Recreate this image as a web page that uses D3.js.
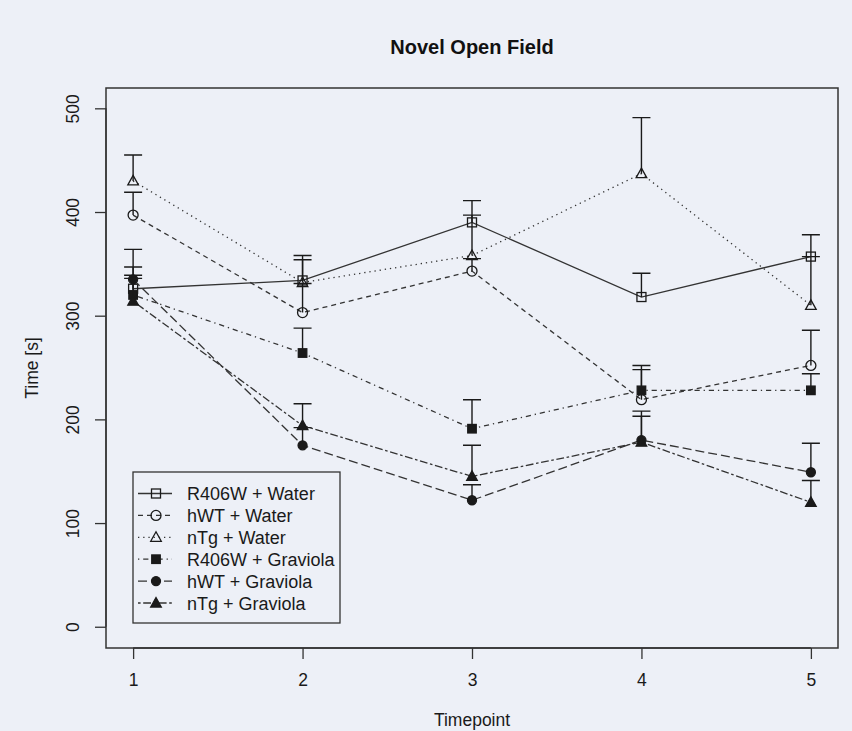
<!DOCTYPE html>
<html>
<head>
<meta charset="utf-8">
<script src="https://cdn.jsdelivr.net/npm/d3@7"></script>
<style>
  body { margin: 0; background: #edf0f7; }
  svg { display: block; font-family: "Liberation Sans", Arial, Helvetica, sans-serif; }
</style>
</head>
<body>
<svg id="chart"></svg>
<script>
var timepoints = [1, 2, 3, 4, 5];
var yTicks = [0, 100, 200, 300, 400, 500];
var groupNames = ["R406W + Water", "hWT + Water", "nTg + Water",
                  "R406W + Graviola", "hWT + Graviola", "nTg + Graviola"];

// means and standard errors (seconds)
var r406wWaterMean = [326, 334, 390, 318, 357];
var r406wWaterSE   = [38, 24, 21, 23, 21];
var hwtWaterMean   = [397, 303, 343, 219, 252];
var hwtWaterSE     = [22, 28, 12, 29, 34];
var ntgWaterMean   = [430, 332, 358, 437, 310];
var ntgWaterSE     = [25, 22, 39, 54, 47];
var r406wGravMean  = [320, 264, 191, 228, 228];
var r406wGravSE    = [19, 24, 28, 24, 16];
var hwtGravMean    = [335, 175, 122, 180, 149];
var hwtGravSE      = [12, 17, 15, 28, 28];
var ntgGravMean    = [314, 194, 145, 178, 120];
var ntgGravSE      = [22, 21, 30, 25, 21];

var means = [r406wWaterMean, hwtWaterMean, ntgWaterMean, r406wGravMean, hwtGravMean, ntgGravMean];
var ses = [r406wWaterSE, hwtWaterSE, ntgWaterSE, r406wGravSE, hwtGravSE, ntgGravSE];

// R lty 1..6 and pch 0,1,2,15,16,17
var dashes = [null, "5,4", "1.3,3.9", "1.3,3.9,5.2,3.9", "9,4", "2.6,2.6,7.8,2.6"];
var shapes = ["square", "circle", "triangle", "square", "circle", "triangle"];
var filled = [false, false, false, true, true, true];

var width = 852, height = 731;
var box = {left: 106, right: 838, top: 88, bottom: 648};
var ink = "#1a1a1a";

var svg = d3.select("#chart").attr("width", width).attr("height", height);

var x = d3.scaleLinear().domain([0.84, 5.16]).range([box.left, box.right]);
var y = d3.scaleLinear().domain([-20.5, 519.6]).range([box.bottom, box.top]);

// title
svg.append("text")
    .attr("x", (box.left + box.right) / 2)
    .attr("y", 54)
    .attr("text-anchor", "middle")
    .attr("font-size", "20px")
    .attr("font-weight", "bold")
    .attr("fill", "#111")
    .text("Novel Open Field");

// axes
var xAxis = d3.axisBottom(x).tickValues(timepoints).tickSize(11).tickPadding(15).tickFormat(d3.format("d"));
var yAxis = d3.axisLeft(y).tickValues(yTicks).tickSize(11).tickPadding(10).tickFormat(d3.format("d"));

var gx = svg.append("g").attr("transform", "translate(0," + box.bottom + ")").call(xAxis);
var gy = svg.append("g").attr("transform", "translate(" + box.left + ",0)").call(yAxis);

[gx, gy].forEach(function(g) {
    g.select(".domain").remove();
    g.selectAll("line").attr("stroke", "#333").attr("stroke-width", 1.3);
    g.selectAll("text").attr("font-size", "17.5px").attr("fill", "#1a1a1a")
        .attr("font-family", "'Liberation Sans', Arial, sans-serif");
});

// R draws the axis line only from the first to the last tick
gx.append("line").attr("x1", x(1)).attr("x2", x(5))
    .attr("stroke", "#333").attr("stroke-width", 1.3);
gy.append("line").attr("y1", y(0)).attr("y2", y(500))
    .attr("stroke", "#333").attr("stroke-width", 1.3);

// rotate y tick labels like R (las = 0)
gy.selectAll(".tick text")
    .attr("text-anchor", "middle")
    .attr("x", null).attr("dy", null)
    .attr("transform", "translate(-27,0) rotate(-90)");

svg.append("rect")
    .attr("x", box.left).attr("y", box.top)
    .attr("width", box.right - box.left).attr("height", box.bottom - box.top)
    .attr("fill", "none").attr("stroke", "#333").attr("stroke-width", 1.5);

svg.append("text")
    .attr("transform", "translate(38," + ((box.top + box.bottom) / 2) + ") rotate(-90)")
    .attr("text-anchor", "middle")
    .attr("font-size", "17.5px")
    .attr("fill", "#1a1a1a")
    .text("Time [s]");

svg.append("text")
    .attr("x", (box.left + box.right) / 2)
    .attr("y", 726)
    .attr("text-anchor", "middle")
    .attr("font-size", "17.5px")
    .attr("fill", "#1a1a1a")
    .text("Timepoint");

function drawMarker(g, shape, isFilled, cx, cy) {
    var m;
    if (shape === "square") {
        var s = isFilled ? 8.5 : 9;
        m = g.append("rect").attr("x", cx - s / 2).attr("y", cy - s / 2).attr("width", s).attr("height", s);
    } else if (shape === "circle") {
        m = g.append("circle").attr("cx", cx).attr("cy", cy).attr("r", isFilled ? 4.5 : 5);
    } else {
        m = g.append("path").attr("d", "M" + cx + "," + (cy - 5.5) + "L" + (cx + 5.3) + "," + (cy + 4)
            + "L" + (cx - 5.3) + "," + (cy + 4) + "Z");
    }
    m.attr("fill", isFilled ? ink : "none")
        .attr("stroke", ink)
        .attr("stroke-width", 1.3);
}

var line = d3.line()
    .x(function(d, i) { return x(timepoints[i]); })
    .y(function(d) { return y(d); });

means.forEach(function(m, k) {
    var g = svg.append("g");

    g.append("path")
        .datum(m)
        .attr("d", line)
        .attr("fill", "none")
        .attr("stroke", "#333")
        .attr("stroke-width", 1.3)
        .attr("stroke-dasharray", dashes[k]);

    // upper error bars only
    g.selectAll(".err")
        .data(m)
        .enter().append("path")
        .attr("d", function(d, i) {
            var cx = x(timepoints[i]), top = y(d + ses[k][i]);
            return "M" + cx + "," + y(d) + "V" + top + "M" + (cx - 9) + "," + top + "H" + (cx + 9);
        })
        .attr("fill", "none")
        .attr("stroke", ink)
        .attr("stroke-width", 1.4);

    m.forEach(function(d, i) {
        drawMarker(g, shapes[k], filled[k], x(timepoints[i]), y(d));
    });
});

// legend
var leg = svg.append("g");
leg.append("rect")
    .attr("x", 133).attr("y", 472)
    .attr("width", 207).attr("height", 151)
    .attr("fill", "none").attr("stroke", "#333").attr("stroke-width", 1.3);

groupNames.forEach(function(name, k) {
    var ly = 493.5 + k * 21.9;
    leg.append("line")
        .attr("x1", 138).attr("x2", 172)
        .attr("y1", ly).attr("y2", ly)
        .attr("stroke", "#333").attr("stroke-width", 1.3)
        .attr("stroke-dasharray", dashes[k]);
    drawMarker(leg, shapes[k], filled[k], 156, ly);
    leg.append("text")
        .attr("x", 187).attr("y", ly + 6.5)
        .attr("font-size", "18px")
        .attr("fill", "#1a1a1a")
        .text(name);
});
</script>
</body>
</html>
